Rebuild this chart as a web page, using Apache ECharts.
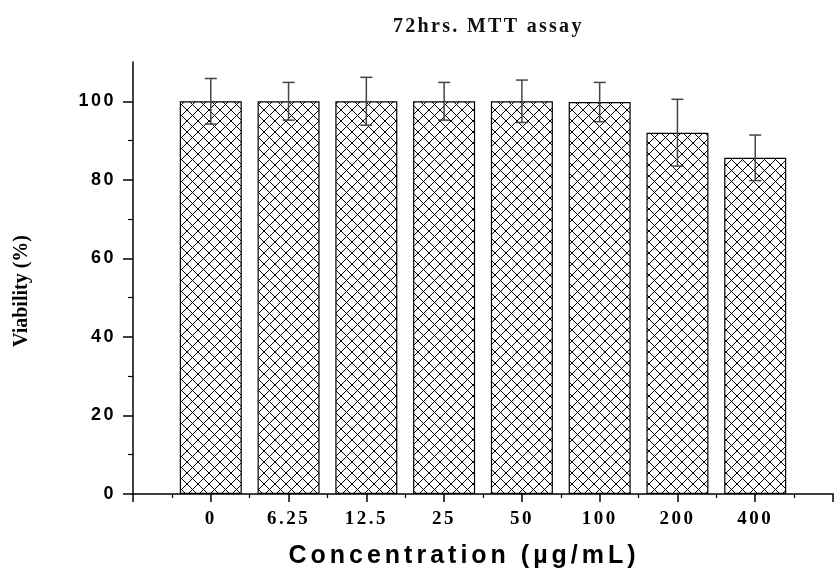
<!DOCTYPE html>
<html><head><meta charset="utf-8">
<script src="https://cdn.jsdelivr.net/npm/echarts@6/dist/echarts.min.js"></script>
<style>html,body{margin:0;padding:0;background:#fff}#c{width:836px;height:578px}</style>
</head><body><div id="c"></div>
<script>
const categories = ['0', '6.25', '12.5', '25', '50', '100', '200', '400'];
const viability = [100, 100, 100, 100, 100, 99.8, 92.0, 85.6];
const errors = [5.8, 4.8, 6.1, 4.8, 5.4, 5.0, 8.5, 5.8];
const yTicks = [0, 20, 40, 60, 80, 100];
const titleText = '72hrs. MTT assay';
const xName = 'Concentration (µg/mL)';
const yName = 'Viability (%)';

// letter spacing for the spaced-out labels of the original figure
const spacingRules = [
  { test: (f, t) => t === titleText, ls: '2.3px' },
  { test: (f, t) => f.indexOf('25px') >= 0, ls: '4px' },
  { test: (f, t) => f.indexOf('Liberation Sans') >= 0 && f.indexOf('18px') >= 0, ls: '2.5px' },
  { test: (f, t) => f.indexOf('Liberation Serif') >= 0 && f.indexOf('19px') >= 0, ls: '2.5px' }
];
const proto = CanvasRenderingContext2D.prototype;
const origFillText = proto.fillText;
proto.fillText = function (text, x, y, maxW) {
  let ls = '0px';
  for (const r of spacingRules) { if (r.test(this.font || '', String(text))) { ls = r.ls; break; } }
  if ('letterSpacing' in this) this.letterSpacing = ls;
  return maxW === undefined ? origFillText.call(this, text, x, y) : origFillText.call(this, text, x, y, maxW);
};

function hatch() {
  const s = 11;
  const c = document.createElement('canvas');
  c.width = s; c.height = s;
  const g = c.getContext('2d');
  g.fillStyle = '#fff'; g.fillRect(0, 0, s, s);
  g.strokeStyle = '#000'; g.lineWidth = 1;
  g.beginPath();
  g.moveTo(0, 0); g.lineTo(s, s);
  g.moveTo(s, 0); g.lineTo(0, s);
  g.stroke();
  return c;
}

const chart = echarts.init(document.getElementById('c'), null, { renderer: 'canvas' });
const serif = 'Liberation Serif';
const sans = 'Liberation Sans';
chart.setOption({
  animation: false,
  backgroundColor: '#fff',
  title: {
    text: titleText, left: 388, top: 12,
    textStyle: { fontFamily: serif, fontWeight: 'bold', fontSize: 20, color: '#111' }
  },
  grid: { left: 133, top: 62, width: 708, height: 432 },
  xAxis: {
    type: 'value', min: -1, max: 8, interval: 1,
    name: xName, nameLocation: 'middle', nameGap: 50,
    nameTextStyle: { fontFamily: sans, fontWeight: 'bold', fontSize: 25, color: '#000', padding: [0, 38, 0, 0] },
    axisLine: { show: true, onZero: false, lineStyle: { color: '#000', width: 1.5 } },
    axisTick: { show: true, length: 8, lineStyle: { color: '#000', width: 1.5 } },
    minorTick: { show: true, splitNumber: 2, length: 4, lineStyle: { color: '#000', width: 1.2 } },
    splitLine: { show: false },
    axisLabel: {
      margin: 16, fontFamily: serif, fontWeight: 'bold', fontSize: 19, color: '#000',
      formatter: v => (categories[v] !== undefined ? categories[v] : '')
    }
  },
  yAxis: {
    type: 'value', min: 0, max: 110, interval: 20,
    name: yName, nameLocation: 'middle', nameGap: 101, nameRotate: 90,
    nameTextStyle: { fontFamily: serif, fontWeight: 'bold', fontSize: 20, color: '#000', padding: [0, 26, 0, 0] },
    axisLine: { show: true, onZero: false, lineStyle: { color: '#000', width: 1.5 } },
    axisTick: { show: true, length: 10, customValues: yTicks, lineStyle: { color: '#000', width: 1.5 } },
    minorTick: { show: true, splitNumber: 2, length: 5, lineStyle: { color: '#000', width: 1.2 } },
    splitLine: { show: false },
    axisLabel: {
      customValues: yTicks, margin: 17, fontFamily: sans, fontWeight: 'bold', fontSize: 18, color: '#000'
    }
  },
  series: [
    {
      type: 'bar',
      data: categories.map((c, i) => [i, viability[i]]),
      barWidth: 62,
      itemStyle: { color: { image: hatch(), repeat: 'repeat' }, borderColor: '#000', borderWidth: 1.2 },
      z: 2
    },
    {
      type: 'custom',
      data: categories.map((c, i) => [i, viability[i] - errors[i], viability[i] + errors[i]]),
      encode: { x: 0, y: [1, 2] },
      z: 5,
      renderItem: function (params, api) {
        const x = api.value(0);
        const lo = api.coord([x, api.value(1)]);
        const hi = api.coord([x, api.value(2)]);
        const hw = 6;
        const st = { stroke: '#444', lineWidth: 1.5 };
        return {
          type: 'group',
          children: [
            { type: 'line', shape: { x1: lo[0], y1: lo[1], x2: hi[0], y2: hi[1] }, style: st },
            { type: 'line', shape: { x1: hi[0] - hw, y1: hi[1], x2: hi[0] + hw, y2: hi[1] }, style: st },
            { type: 'line', shape: { x1: lo[0] - hw, y1: lo[1], x2: lo[0] + hw, y2: lo[1] }, style: st }
          ]
        };
      }
    }
  ]
});
</script>
</body></html>
